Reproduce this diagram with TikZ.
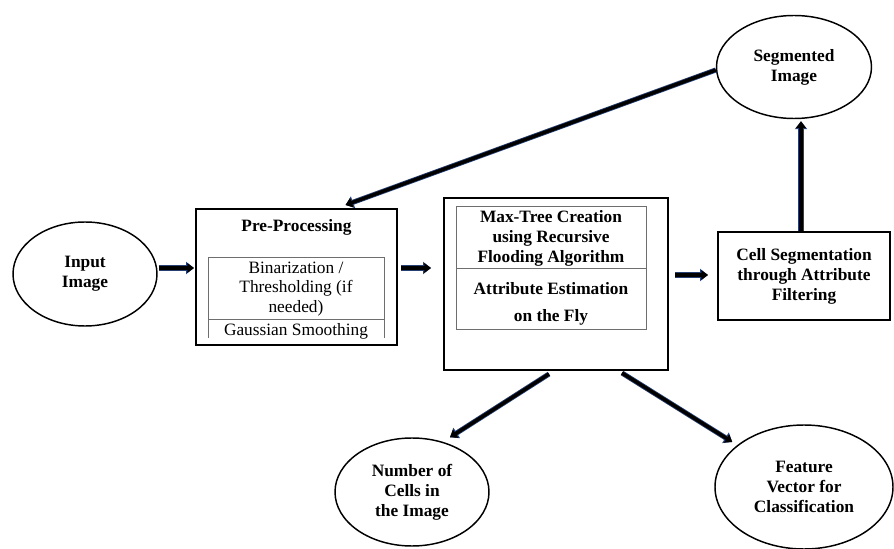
\documentclass[tikz,border=0pt]{standalone}
\usepackage{fontspec}
\setmainfont{Liberation Serif}
\usetikzlibrary{shapes.geometric,arrows.meta,calc}

\definecolor{arrowedge}{RGB}{38,64,115}

\tikzset{every picture/.style={line width=0.75pt}}
\tikzset{
  oval/.style={ellipse, draw, line width=1.1pt, inner sep=0pt, align=center, font=\fontsize{13}{15}\selectfont\bfseries},
  stage/.style={rectangle, draw, line width=1.5pt, inner sep=0pt},
  subbox/.style={draw={rgb, 255:red, 110; green, 110; blue, 110}, line width=0.6pt},
  plain/.style={align=center, inner sep=0pt, font=\fontsize{13}{14.5}\selectfont},
  heavy/.style={align=center, inner sep=0pt, font=\fontsize{13}{15}\selectfont\bfseries},
  flow/.style={-{Triangle[length=5pt,width=7pt]}, line width=2.6pt,
    preaction={draw=arrowedge, line width=3.8pt, -{Triangle[length=6pt,width=9pt]}}},
}

\begin{document}
\begin{tikzpicture}[x=0.75pt,y=0.75pt,yscale=-1,xscale=1]
	\useasboundingbox (0,0) rectangle (894,549);

	%Shape: Ellipse
	\node [oval, minimum width=108pt, minimum height=78pt] (inp) at (85,274) {Input\\Image};
	%Shape: Ellipse
	\node [oval, minimum width=116.25pt, minimum height=77.25pt] (seg) at (794,67) {Segmented\\Image};
	%Shape: Ellipse
	\node [oval, minimum width=115.5pt, minimum height=81pt] (num) at (412,492) {Number of\\Cells in\\the Image};
	%Shape: Ellipse
	\node [oval, minimum width=133.5pt, minimum height=93pt] (feat) at (804,487) {Feature\\Vector for\\Classification};

	%Shape: Rectangle
	\node [stage, minimum width=150.75pt, minimum height=102pt] (pre) at (296.5,277) {};
	%Shape: Rectangle
	\node [stage, minimum width=168pt, minimum height=129pt] (max) at (556,284) {};
	%Shape: Rectangle
	\node [stage, minimum width=129pt, minimum height=66pt, heavy] (cell) at (804,276) {Cell Segmentation\\through Attribute\\Filtering};

	%Inner boxes
	\draw [subbox] (208,338) -- (208,257) -- (384,257) -- (384,338) ;
	\draw [subbox] (208,319) -- (384,319) ;
	\draw [subbox] (456,206) rectangle (646,329) ;
	\draw [subbox] (456,268) -- (646,268) ;

	% Text Node
	\node [heavy] (pretitle) at (296.5,227) {Pre-Processing};
	% Text Node
	\node [plain] (binar) at (296,289) {Binarization /\\Thresholding (if\\needed)};
	% Text Node
	\node [plain] (gauss) at (296,331) {Gaussian Smoothing};
	% Text Node
	\node [heavy, font=\fontsize{13}{15}\selectfont\bfseries] (maxtree) at (551,238) {Max-Tree Creation\\using Recursive\\Flooding Algorithm};
	% Text Node
	\node [heavy, font=\fontsize{13}{20}\selectfont\bfseries] (attrib) at (551,304) {Attribute Estimation\\on the Fly};

	%Arrows
	\draw [flow] ($(inp.east)+(1,-6)$) -- ($(pre.west)+(-1,-9)$) ;
	\draw [flow] ($(pre.east)+(3,-9)$) -- ($(max.west)+(-12,-16)$) ;
	\draw [flow] ($(max.east)+(6,-9)$) -- ($(cell.west)+(-9,-1)$) ;
	\draw [flow] ($(cell.north)+(-3,0)$) -- ($(seg.south)+(7,2)$) ;
	\draw [flow] ($(seg.west)+(0,3)$) -- ($(pre.north)+(49,-3)$) ;
	\draw [flow] ($(max.south)+(-7,3)$) -- ($(num.north)+(38,0)$) ;
	\draw [flow] ($(max.south)+(66,2)$) -- ($(feat.west)+(18,-45)$) ;

\end{tikzpicture}
\end{document}
